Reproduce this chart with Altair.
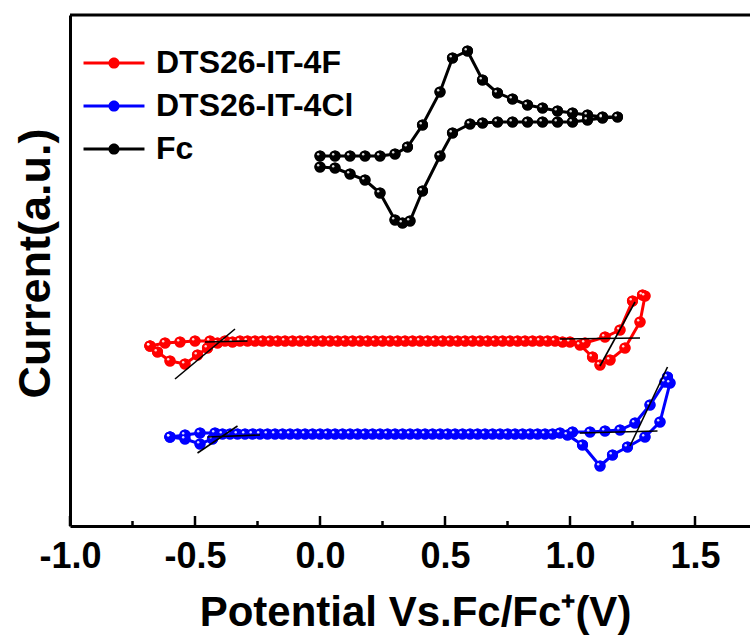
import altair as alt
import pandas as pd

SERIES = ["DTS26-IT-4F", "DTS26-IT-4Cl", "Fc"]
COLORS = ["#FF0000", "#0000FF", "#000000"]

# ---- data (potential in V, current in arbitrary units) ----
red_x = [-0.68, -0.62, -0.56, -0.50, -0.44, -0.38, -0.32, -0.26, -0.20, -0.14,
         -0.08, -0.02, 0.04, 0.10, 0.16, 0.22, 0.28, 0.34, 0.40, 0.46,
         0.52, 0.58, 0.64, 0.70, 0.76, 0.82, 0.88, 0.94, 1.00, 1.06,
         1.14, 1.20, 1.25, 1.29, 1.30,
         1.28, 1.22, 1.16, 1.12, 1.09, 1.04,
         0.97, 0.91, 0.85, 0.79, 0.73, 0.67, 0.61, 0.55, 0.49, 0.43,
         0.37, 0.31, 0.25, 0.19, 0.13, 0.07, 0.01, -0.05, -0.11, -0.17,
         -0.23, -0.29, -0.35, -0.41,
         -0.45, -0.49, -0.54, -0.60, -0.65, -0.68]
red_y = [180, 183, 184, 185, 185, 185, 185, 185, 185, 185,
         185, 185, 185, 185, 185, 185, 185, 185, 185, 185,
         185, 185, 185, 185, 185, 185, 185, 185, 184, 183,
         189, 196, 225, 231, 230,
         204, 178, 166, 161, 169, 181,
         184, 185, 185, 185, 185, 185, 185, 185, 185, 185,
         185, 185, 185, 185, 185, 185, 185, 185, 185, 185,
         185, 185, 184, 183,
         178, 171, 162, 165, 174, 180]

blue_x = [-0.60, -0.54, -0.48, -0.42, -0.36, -0.30, -0.24, -0.18, -0.12, -0.06,
          0.00, 0.06, 0.12, 0.18, 0.24, 0.30, 0.36, 0.42, 0.48, 0.54,
          0.60, 0.66, 0.72, 0.78, 0.84, 0.90, 0.96,
          1.01, 1.08, 1.14, 1.20, 1.26, 1.32, 1.38, 1.39, 1.40,
          1.36, 1.30, 1.23, 1.17, 1.12, 1.05, 0.99,
          0.93, 0.87, 0.81, 0.75, 0.69, 0.63, 0.57, 0.51, 0.45, 0.39,
          0.33, 0.27, 0.21, 0.15, 0.09, 0.03, -0.03, -0.09, -0.15, -0.21,
          -0.27, -0.33, -0.39,
          -0.43, -0.48, -0.54, -0.60]
blue_y = [89, 91, 93, 93, 92, 92, 92, 92, 92, 92,
          92, 92, 92, 92, 92, 92, 92, 92, 92, 92,
          92, 92, 92, 92, 92, 92, 93,
          94, 94, 95, 96, 103, 121, 144, 149, 143,
          104, 89, 79, 71, 60, 81, 91,
          92, 92, 92, 92, 92, 92, 92, 92, 92, 92,
          92, 92, 92, 92, 92, 92, 92, 92, 92, 92,
          92, 92, 92,
          87, 82, 87, 89]

fc_x = [0.00, 0.06, 0.12, 0.18, 0.24, 0.30, 0.35, 0.41, 0.48, 0.53,
        0.59, 0.65, 0.71, 0.77, 0.83, 0.89, 0.95, 1.01, 1.07, 1.13, 1.19,
        1.13, 1.07, 1.01, 0.95, 0.89, 0.83, 0.77, 0.71, 0.65, 0.60,
        0.53, 0.48, 0.41, 0.36, 0.33, 0.30, 0.24, 0.18, 0.12, 0.06, 0.00]
fc_y = [370, 370, 370, 370, 370, 372, 379, 401, 434, 468,
        475, 446, 433, 427, 421, 418, 415, 413, 411, 409, 409,
        408, 406, 404, 404, 404, 404, 404, 404, 403, 402,
        393, 370, 335, 305, 303, 306, 333, 346, 352, 358, 359]

# onset tangent segments
tan_seg = ["rlh", "rlh", "rls", "rls", "rrh", "rrh", "rrs", "rrs",
           "blh", "blh", "bls", "bls", "brh", "brh", "brs", "brs"]
tan_x = [-0.46, -0.29, -0.58, -0.34, 0.96, 1.28, 1.12, 1.26,
         -0.45, -0.24, -0.49, -0.33, 1.04, 1.35, 1.24, 1.39]
tan_y = [184, 185, 147, 197, 187, 188, 160, 224,
         89, 91, 73, 100, 93, 95, 80, 159]

major_ticks = [-1.0, -0.5, 0.0, 0.5, 1.0, 1.5]
minor_ticks = [-0.75, -0.25, 0.25, 0.75, 1.25]
Y_MIN, Y_MAX = 0, 511

# ---- tables ----
rows = []
for name, xs, ys in [(SERIES[0], red_x, red_y), (SERIES[1], blue_x, blue_y), (SERIES[2], fc_x, fc_y)]:
    for i, (a, b) in enumerate(zip(xs, ys)):
        rows.append({"series": name, "i": i, "x": a, "y": b})
df = pd.DataFrame(rows)
tan_df = pd.DataFrame({"seg": tan_seg, "x": tan_x, "y": tan_y})
tick_df = pd.DataFrame({
    "x": major_ticks + minor_ticks,
    "y": [Y_MIN] * (len(major_ticks) + len(minor_ticks)),
    "len": [10] * len(major_ticks) + [5] * len(minor_ticks),
})
top_df = pd.DataFrame({"y": [Y_MAX]})

FONT = "Liberation Sans"
x_scale = alt.Scale(domain=[-1.0, 1.72], nice=False, zero=False)
y_scale = alt.Scale(domain=[Y_MIN, Y_MAX], nice=False, zero=False)
color_scale = alt.Scale(domain=SERIES, range=COLORS)

x_axis = alt.Axis(
    values=major_ticks, labelExpr="replace(format(datum.value, '.1f'), '\u2212', '-')",
    ticks=False, grid=False, domainColor="black", domainWidth=3,
    labelFont=FONT, labelFontSize=36, labelFontWeight="bold", labelColor="black",
    labelPadding=13, labelFlush=False,
    title="Potential Vs.Fc/Fc\u207a(V)", titleFont=FONT, titleFontSize=42,
    titleFontWeight="bold", titleColor="black", titleX=345, titleY=99,
    titleBaseline="alphabetic", titleAlign="center",
)
y_axis = alt.Axis(
    labels=False, ticks=False, grid=False, domainColor="black", domainWidth=3,
    title="Current(a.u.)", titleFont=FONT, titleFontSize=45, titleFontWeight="bold",
    titleColor="black", titleX=-35, titleY=248, titleBaseline="middle", titleAlign="center",
)
X = alt.X("x:Q", scale=x_scale, axis=x_axis)
Y = alt.Y("y:Q", scale=y_scale, axis=y_axis)

legend_path = ("M-3,-0.15H3V0.15H-3Z M-0.55,0A0.55,0.55,0,1,1,0.55,0"
               "A0.55,0.55,0,1,1,-0.55,0Z")
legend = alt.Legend(
    title=None, orient="none", legendX=28, legendY=32, padding=0,
    symbolType=legend_path, symbolSize=413, symbolStrokeWidth=0,
    labelFont=FONT, labelFontSize=32, labelFontWeight="bold", labelColor="black",
    labelOffset=26, rowPadding=11, labelLimit=400,
)

lines = alt.Chart(df).mark_line(strokeWidth=3).encode(
    x=X, y=Y,
    color=alt.Color("series:N", scale=color_scale, legend=legend),
    order="i:Q",
)

points = alt.Chart(df).mark_point(filled=True, shape="circle", size=125, opacity=1).encode(
    x=X, y=Y,
    color=alt.Color("series:N", scale=color_scale, legend=legend),
)

shine = alt.Chart(df).mark_point(filled=True, shape="circle", size=6, color="white",
                                 opacity=0.85, xOffset=-1.8, yOffset=-1.8).encode(x=X, y=Y)

tangents = alt.Chart(tan_df).mark_line(color="black", strokeWidth=1.6).encode(
    x=X, y=Y, detail="seg:N",
)

ticks = alt.Chart(tick_df).mark_rule(color="black", strokeWidth=2.5).encode(
    x=X, y=Y, y2="len:Q",
)

top_border = alt.Chart(top_df).mark_rule(color="black", strokeWidth=3).encode(y=Y)

chart = alt.layer(points, lines, points, shine, tangents, ticks, top_border).properties(
    width=680, height=511,
    autosize=alt.AutoSizeParams(type="none"),
    padding={"left": 70, "top": 15, "right": 0, "bottom": 111},
    background="white",
).configure_view(strokeWidth=0)

chart.save("out.html", embed_options={"renderer": "svg", "actions": False})
